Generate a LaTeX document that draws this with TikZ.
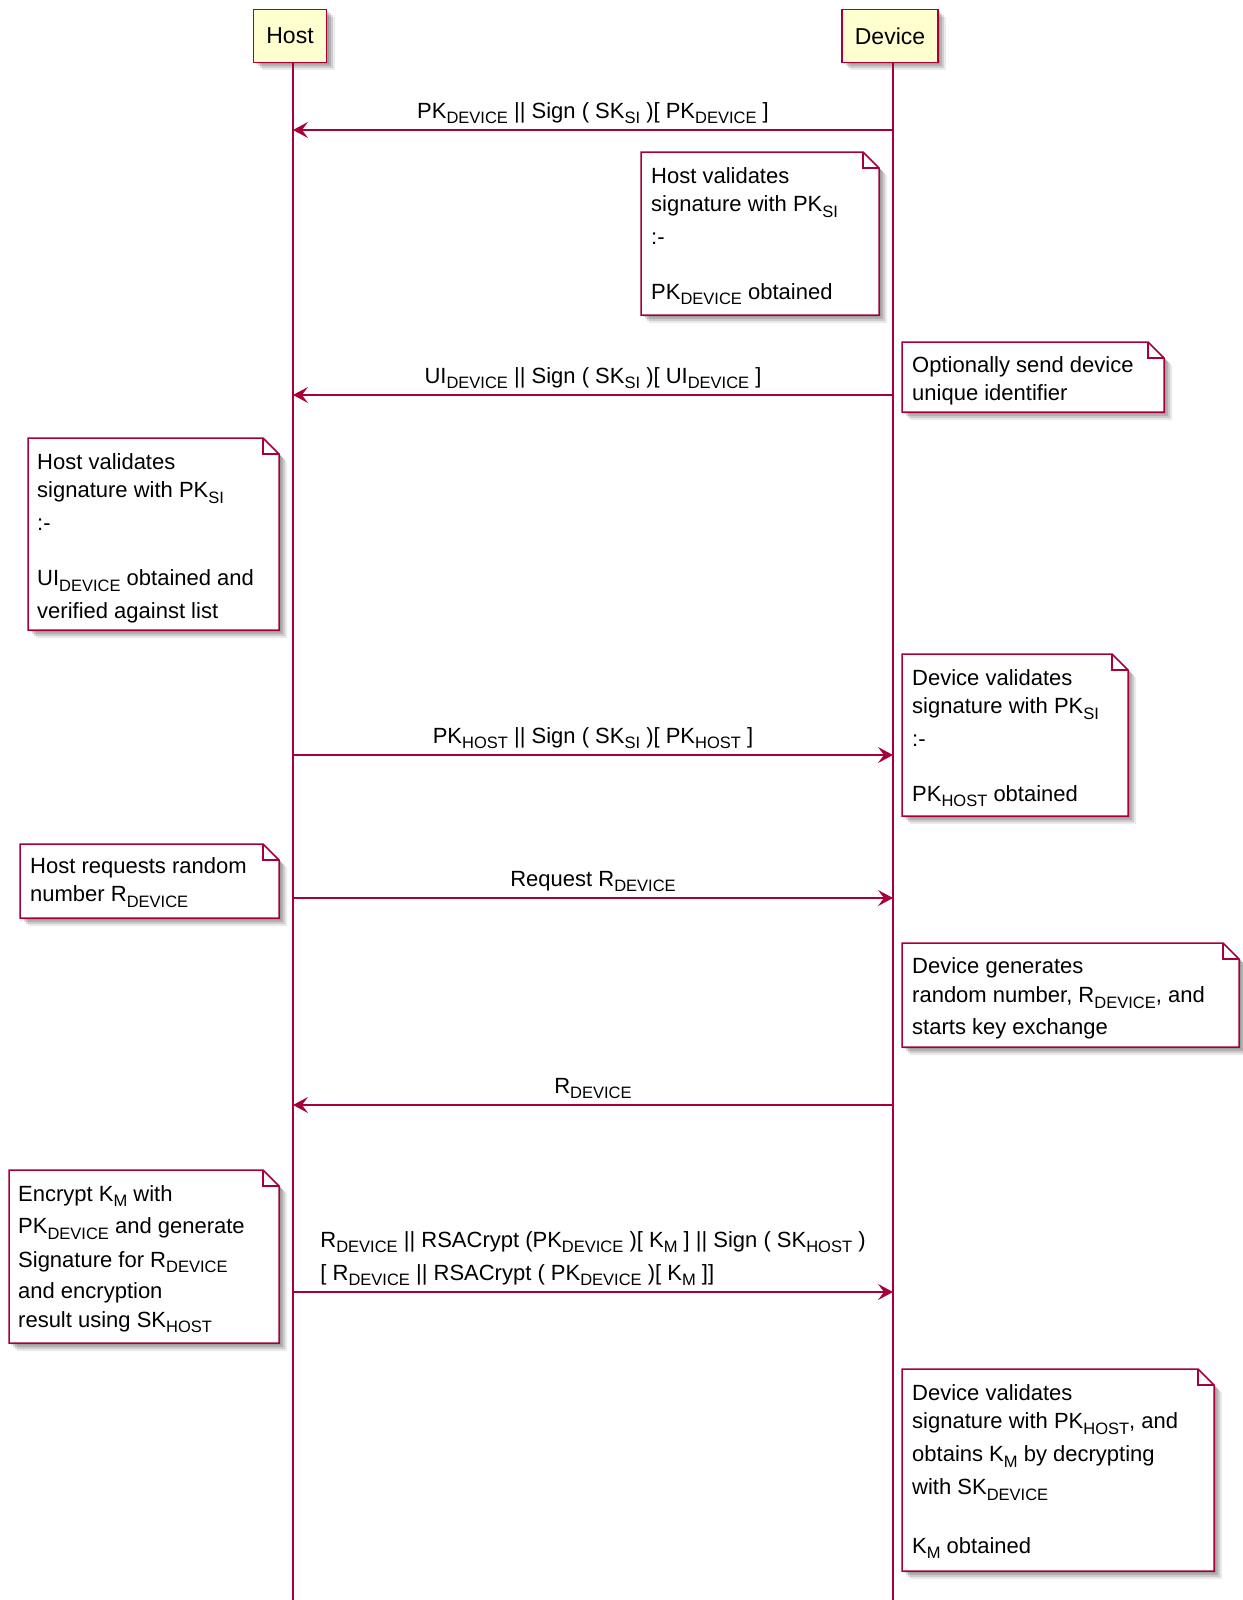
\documentclass[tikz,border=0pt]{standalone}
\usepackage{fontspec}
\setmainfont{Liberation Sans}
\usetikzlibrary{arrows.meta,shadows}
\definecolor{pumlred}{HTML}{A80036}
\definecolor{pumlfill}{HTML}{FEFECE}
\newcommand\sbs[1]{\raisebox{-5.5pt}{\fontsize{16.5}{16.5}\selectfont #1}}
\tikzset{
  softshadow/.style={
    general shadow={fill=black,opacity=0.12,shadow xshift=2pt,shadow yshift=-2pt},
    general shadow={fill=black,opacity=0.14,shadow xshift=4pt,shadow yshift=-4pt},
    general shadow={fill=black,opacity=0.12,shadow xshift=6pt,shadow yshift=-6pt},
    general shadow={fill=black,opacity=0.08,shadow xshift=8pt,shadow yshift=-8pt}},
  part/.style={draw=pumlred, fill=pumlfill, line width=1.5pt, softshadow,
    minimum width=#1, minimum height=53pt, inner sep=0pt,
    font=\fontsize{23}{28}\selectfont},
  life/.style={draw=pumlred, line width=1.5pt},
  msg/.style={draw=pumlred, line width=1.5pt, -{Stealth[length=15pt,width=16pt,inset=6pt]}},
  notebody/.style={draw=pumlred, fill=white, line width=1.5pt, softshadow, line join=miter},
  noteline/.style={draw=pumlred, line width=1.5pt},
  notetext/.style={align=left, inner sep=0pt, anchor=north west, font=\fontsize{22}{28.5}\selectfont},
  lbl/.style={inner sep=0pt, anchor=base, font=\fontsize{22}{28.5}\selectfont},
}
\newcommand\notebox[4]{%
  \filldraw[notebody] (#1,#2) -- ({#3-16},#2) -- (#3,{#2+16}) -- (#3,#4) -- (#1,#4) -- cycle;
  \draw[noteline] ({#3-16},#2) -- ({#3-16},{#2+16}) -- (#3,{#2+16});
}
\begin{document}
\begin{tikzpicture}[x=1pt,y=-1pt]
\useasboundingbox (0,0) rectangle (1242,1600);

% participants and lifelines
\node[part=73pt] (host) at (290,36) {Host};
\node[part=96pt] (dev) at (890,36) {Device};
\coordinate (hostend) at (293,1600);
\coordinate (devend) at (893,1600);
\draw[life] (host.south -| hostend) -- (hostend);
\draw[life] (dev.south -| devend) -- (devend);

% lifeline points
\coordinate (h1) at (293,130);  \coordinate (d1) at (893,130);
\coordinate (h2) at (293,395);  \coordinate (d2) at (893,395);
\coordinate (h3) at (293,755);  \coordinate (d3) at (893,755);
\coordinate (h4) at (293,898);  \coordinate (d4) at (893,898);
\coordinate (h5) at (293,1105); \coordinate (d5) at (893,1105);
\coordinate (h6) at (293,1292); \coordinate (d6) at (893,1292);

% messages
\draw[msg] (d1) -- (h1);
\node[lbl] (l1) at (593,118) {PK\sbs{DEVICE} || Sign ( SK\sbs{SI} )[ PK\sbs{DEVICE} ]};
\draw[msg] (d2) -- (h2);
\node[lbl] (l2) at (593,383) {UI\sbs{DEVICE} || Sign ( SK\sbs{SI} )[ UI\sbs{DEVICE} ]};
\draw[msg] (h3) -- (d3);
\node[lbl] (l3) at (593,743) {PK\sbs{HOST} || Sign ( SK\sbs{SI} )[ PK\sbs{HOST} ]};
\draw[msg] (h4) -- (d4);
\node[lbl] (l4) at (593,886) {Request R\sbs{DEVICE}};
\draw[msg] (d5) -- (h5);
\node[lbl] (l5) at (593,1093) {R\sbs{DEVICE}};
\draw[msg] (h6) -- (d6);
\node[lbl] (l6) at (593,1280) {\begin{tabular}[b]{@{}l@{}}R\sbs{DEVICE} || RSACrypt (PK\sbs{DEVICE} )[ K\sbs{M} ] || Sign ( SK\sbs{HOST} )\\[4.5pt]
[ R\sbs{DEVICE} || RSACrypt ( PK\sbs{DEVICE} )[ K\sbs{M} ]]\end{tabular}};

% notes
\notebox{641}{152}{879}{315}
\node[notetext] (nA) at (651,167) {Host validates\\ signature with PK\sbs{SI}\\[4.5pt] :-\\[26pt] PK\sbs{DEVICE} obtained};

\notebox{902}{342}{1164}{412}
\node[notetext] (nB) at (912,356) {Optionally send device\\ unique identifier};

\notebox{28}{438}{279}{630}
\node[notetext] (nC) at (37,453) {Host validates\\ signature with PK\sbs{SI}\\[4pt] :-\\[27pt] UI\sbs{DEVICE} obtained and\\[4pt] verified against list};

\notebox{902}{654}{1128}{816}
\node[notetext] (nD) at (912,669) {Device validates\\ signature with PK\sbs{SI}\\[4.5pt] :-\\[26pt] PK\sbs{HOST} obtained};

\notebox{20}{844}{279}{918}
\node[notetext] (nE) at (30,857) {Host requests random\\ number R\sbs{DEVICE}};

\notebox{902}{943}{1239}{1047}
\node[notetext] (nF) at (912,957) {Device generates\\[1pt] random number, R\sbs{DEVICE}, and\\[3pt] starts key exchange};

\notebox{9}{1170}{279}{1343}
\node[notetext] (nG) at (18,1185) {Encrypt K\sbs{M} with\\[4pt] PK\sbs{DEVICE} and generate\\[5pt] Signature for R\sbs{DEVICE}\\[3pt] and encryption\\ result using SK\sbs{HOST}};

\notebox{902}{1369}{1214}{1571}
\node[notetext] (nH) at (912,1384) {Device validates\\ signature with PK\sbs{HOST}, and\\[4.5pt] obtains K\sbs{M} by decrypting\\[4.5pt] with SK\sbs{DEVICE}\\[30pt] K\sbs{M} obtained};
\end{tikzpicture}
\end{document}
